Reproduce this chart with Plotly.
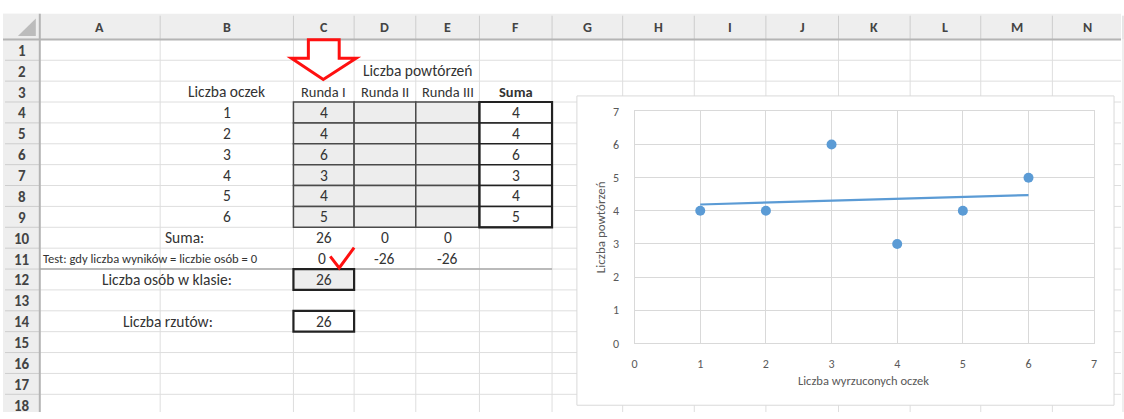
import numpy as np
import plotly.graph_objects as go

# ---- data -------------------------------------------------------------
liczba_oczek = [1, 2, 3, 4, 5, 6]
runda_1 = [4, 4, 6, 3, 4, 5]
runda_2 = [None, None, None, None, None, None]
runda_3 = [None, None, None, None, None, None]
liczba_osob = 26
liczba_rzutow = 26

naglowki_kolumn = ["A", "B", "C", "D", "E", "F", "G", "H", "I", "J", "K", "L", "M", "N"]
naglowki_rund = ["Runda I", "Runda II", "Runda III"]

# derived values shown in the sheet
rundy = [runda_1, runda_2, runda_3]
suma_wierszy = [sum(v for v in trio if v is not None) for trio in zip(*rundy)]
suma_kolumn = [sum(v for v in r if v is not None) for r in rundy]
test_kolumn = [s - liczba_osob for s in suma_kolumn]

# ---- sheet geometry (pixels) ------------------------------------------
W, H = 1124, 419
col_edges = [37, 158, 292, 353, 415, 479, 552, 623, 695, 767, 840, 912, 983, 1055, 1126]
HEAD_TOP, HEAD_BOT = 7, 33.5
ROW_H = 21.6
N_ROWS = 18


def row_top(r):
    return HEAD_BOT + (r - 1) * ROW_H


def row_mid(r):
    return row_top(r) + ROW_H / 2


def col_mid(i):
    return (col_edges[i] + col_edges[i + 1]) / 2


def px(x):
    return x / W


def py(y):
    return 1 - y / H


FONT = "Calibri, Carlito, Lato, sans-serif"
TXT = "#333333"
GRID = "#dedede"
FILL = "#ededed"
CELL = 15.5

shapes = []
annotations = []


def rect(x0, y0, x1, y1, fill="rgba(0,0,0,0)", line=None, width=1):
    shapes.append(dict(type="rect", xref="paper", yref="paper", layer="below",
                       x0=px(x0), x1=px(x1), y0=py(y1), y1=py(y0),
                       fillcolor=fill,
                       line=dict(color=line or "rgba(0,0,0,0)", width=width if line else 0)))


def seg(x0, y0, x1, y1, color, width=1, layer="below"):
    shapes.append(dict(type="line", xref="paper", yref="paper", layer=layer,
                       x0=px(x0), x1=px(x1), y0=py(y0), y1=py(y1),
                       line=dict(color=color, width=width)))


def text(x, y, s, size=CELL, color=TXT, anchor="center", bold=False, angle=0):
    annotations.append(dict(xref="paper", yref="paper", x=px(x), y=py(y),
                            text=f"<b>{s}</b>" if bold else s, showarrow=False,
                            xanchor=anchor, yanchor="middle", textangle=angle,
                            borderpad=0,
                            font=dict(family=FONT, size=size, color=color)))


# headers background
rect(0, HEAD_TOP, W, HEAD_BOT, fill="#eeeeee")
rect(0, HEAD_TOP, col_edges[0], H, fill="#eeeeee")

# sheet gridlines
for x in col_edges[1:]:
    seg(x, HEAD_BOT, x, H, GRID)
for r in range(1, N_ROWS + 1):
    seg(col_edges[0], row_top(r), W, row_top(r), GRID)

# header separators
for x in col_edges[1:]:
    seg(x, HEAD_TOP + 2, x, HEAD_BOT, "#cdcdcd")
for r in range(1, N_ROWS + 1):
    seg(2, row_top(r), col_edges[0], row_top(r), "#cdcdcd")
seg(0, HEAD_BOT, W, HEAD_BOT, "#b4b4b4", 2)
seg(col_edges[0], HEAD_TOP, col_edges[0], H, "#b4b4b4", 2)

# corner triangle
shapes.append(dict(type="path", xref="paper", yref="paper", layer="below",
                   path=f"M {px(15)} {py(30)} L {px(33)} {py(30)} L {px(33)} {py(12)} Z",
                   fillcolor="#bcbcbc", line=dict(width=0)))

# line under row 11
seg(col_edges[0], row_top(12), col_edges[6], row_top(12), "#a8a8a8", 1.5)

# Runda I .. III cells
for r in range(4, 10):
    for c in (2, 3, 4):
        rect(col_edges[c], row_top(r), col_edges[c + 1], row_top(r + 1),
             fill=FILL, line="#4a4a4a", width=1.5)
# Suma cells
for r in range(4, 10):
    rect(col_edges[5], row_top(r), col_edges[6], row_top(r + 1), fill="white", line="#222222", width=1.5)
rect(col_edges[5], row_top(4), col_edges[6], row_top(10), line="#222222", width=2.2)
# class size / throws
rect(col_edges[2], row_top(12), col_edges[3], row_top(13), fill=FILL, line="#222222", width=2.2)
rect(col_edges[2], row_top(14), col_edges[3], row_top(15), fill="white", line="#222222", width=2.2)

# header labels
for i, c in enumerate(naglowki_kolumn):
    text(col_mid(i), (HEAD_TOP + HEAD_BOT) / 2 + 1, c, size=14, color="#444444", bold=True)
for r in range(1, N_ROWS + 1):
    text(19, row_mid(r) + 1, str(r), size=15, color="#444444", bold=True)

# table contents
text(417, row_mid(2), "Liczba powtórzeń")
text(col_mid(1), row_mid(3), "Liczba oczek")
for i, h in enumerate(naglowki_rund):
    text(col_mid(2 + i), row_mid(3), h, size=14.5)
text(col_mid(5), row_mid(3), "Suma", bold=True, size=14.5)

for k, n in enumerate(liczba_oczek):
    r = 4 + k
    text(col_mid(1), row_mid(r), str(n))
    for i, runda in enumerate(rundy):
        if runda[k] is not None:
            text(col_mid(2 + i), row_mid(r), str(runda[k]))
    text(col_mid(5), row_mid(r), str(suma_wierszy[k]))

text(182, row_mid(10), "Suma:")
for i, s in enumerate(suma_kolumn):
    text(col_mid(2 + i), row_mid(10), str(s))
text(39, row_mid(11), "Test: gdy liczba wyników = liczbie osób = 0", size=12.6, anchor="left")
for i, t in enumerate(test_kolumn):
    text(col_mid(2 + i) - (2 if i == 0 else 0), row_mid(11), str(t))
text(165, row_mid(12), "Liczba osób w klasie:")
text(col_mid(2), row_mid(12), str(liczba_osob))
text(166, row_mid(14), "Liczba rzutów:")
text(col_mid(2), row_mid(14), str(liczba_rzutow))

# red marks: arrow over Runda I and check mark next to the test result
arrow = [(307, 34), (338, 34), (338, 53), (355, 53), (322, 75), (290, 53), (307, 53)]
shapes.append(dict(type="path", xref="paper", yref="paper", layer="above",
                   path="M " + " L ".join(f"{px(x)} {py(y)}" for x, y in arrow) + " Z",
                   fillcolor="white", line=dict(color="#ff1010", width=3)))
check = [(329, 258), (338, 270), (353, 249)]
shapes.append(dict(type="path", xref="paper", yref="paper", layer="above",
                   path="M " + " L ".join(f"{px(x)} {py(y)}" for x, y in check),
                   line=dict(color="#ff1010", width=3)))

# chart area
rect(577, 92, 1117, 412, fill="white", line="#d9d9d9", width=1)
PX0, PX1, PY0, PY1 = 635, 1097, 108, 348

slope, intercept = np.polyfit(liczba_oczek, suma_wierszy, 1)
trend_x = [liczba_oczek[0], liczba_oczek[-1]]
trend_y = [slope * x + intercept for x in trend_x]

fig = go.Figure()
fig.add_trace(go.Scatter(x=trend_x, y=trend_y, mode="lines",
                         line=dict(color="#5b9bd5", width=2.2),
                         hoverinfo="skip", showlegend=False))
fig.add_trace(go.Scatter(x=liczba_oczek, y=suma_wierszy, mode="markers",
                         marker=dict(color="#5b9bd5", size=10, line=dict(width=0)),
                         showlegend=False))

axis_common = dict(range=[0, 7], dtick=1, tick0=0, showgrid=True, gridcolor="#d9d9d9",
                   gridwidth=1, zeroline=False, showline=True, linecolor="#d9d9d9",
                   linewidth=1, mirror=True, ticks="", fixedrange=True,
                   tickfont=dict(family=FONT, size=12, color="#595959"))
fig.update_layout(
    width=W, height=H,
    margin=dict(l=0, r=0, t=0, b=0),
    paper_bgcolor="white",
    plot_bgcolor="rgba(0,0,0,0)",
    xaxis=dict(domain=[px(PX0), px(PX1)], ticklabelstandoff=9, **axis_common),
    yaxis=dict(domain=[py(PY1), py(PY0)], ticklabelstandoff=12, **axis_common),
    shapes=shapes,
    annotations=annotations,
)

# axis titles
fig.add_annotation(xref="paper", yref="paper", x=px(865), y=py(386),
                   text="Liczba wyrzuconych oczek", showarrow=False,
                   xanchor="center", yanchor="middle", borderpad=0,
                   font=dict(family=FONT, size=12.5, color="#595959"))
fig.add_annotation(xref="paper", yref="paper", x=px(601), y=py(228),
                   text="Liczba powtórzeń", showarrow=False, textangle=-90,
                   xanchor="center", yanchor="middle", borderpad=0,
                   font=dict(family=FONT, size=13, color="#595959"))

fig.write_html("out.html", config=dict(displayModeBar=False))
